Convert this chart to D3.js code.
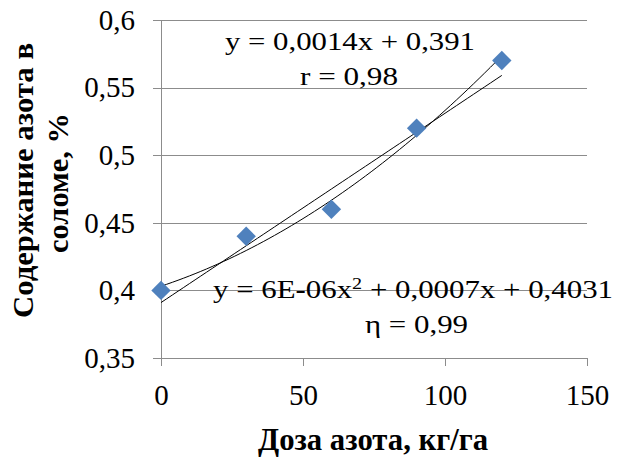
<!DOCTYPE html>
<html lang="ru">
<head>
<meta charset="utf-8">
<title>Содержание азота в соломе</title>
<script src="https://cdn.jsdelivr.net/npm/d3@7"></script>
<style>
  body { margin: 0; background: #fff; }
  .grid line { stroke: #8c8c8c; stroke-width: 1; shape-rendering: crispEdges; }
  .axis path, .axis line { stroke: #8c8c8c; fill: none; shape-rendering: crispEdges; }
</style>
</head>
<body>
<script>
// data
var doses = [0, 30, 60, 90, 120];
var nitrogen = [0.40, 0.44, 0.46, 0.52, 0.57];
var xTicks = [0, 50, 100, 150];
var yTicks = [0.35, 0.4, 0.45, 0.5, 0.55, 0.6];
// trend line coefficients as printed on the chart
var linCoef = [0.391, 0.0014];          // a + b*x
var quadCoef = [0.4031, 0.0007, 6e-6];  // a + b*x + c*x^2

var W = 618, H = 457;
var font = "'Liberation Serif', 'Times New Roman', 'Liberation Sans', serif";
var svg = d3.select("body").append("svg")
    .attr("width", W).attr("height", H)
    .style("font-family", font);

var x = d3.scaleLinear().domain([0, 150]).range([161, 587]);
var y = d3.scaleLinear().domain([0.35, 0.6]).range([358, 20]);
var fmt = function(v) { return String(+v.toFixed(2)).replace(".", ","); };

// horizontal gridlines
svg.append("g").attr("class", "grid")
  .selectAll("line").data(yTicks).enter().append("line")
    .attr("x1", x(0) - 8).attr("x2", x(150))
    .attr("y1", function(d) { return Math.round(y(d)) + 0.5; })
    .attr("y2", function(d) { return Math.round(y(d)) + 0.5; });

// y axis
var yAxis = d3.axisLeft(y).tickValues(yTicks).tickSize(8).tickPadding(18).tickFormat(fmt);
svg.append("g").attr("class", "axis y")
    .attr("transform", "translate(" + x(0) + ",0)")
    .call(yAxis);

// x axis
var xAxis = d3.axisBottom(x).tickValues(xTicks).tickSize(8).tickPadding(18).tickFormat(d3.format("d"));
svg.append("g").attr("class", "axis x")
    .attr("transform", "translate(0," + y(0.35) + ")")
    .call(xAxis);

svg.selectAll(".axis").attr("font-family", null).attr("font-size", 29);
svg.selectAll(".axis .domain").remove();
svg.append("line").attr("x1", x(0) + 0.5).attr("x2", x(0) + 0.5)
    .attr("y1", y(0.6)).attr("y2", y(0.35) + 8)
    .style("stroke", "#8c8c8c");

svg.selectAll(".axis text").style("fill", "#000").style("font-family", font);
svg.selectAll(".axis.x text").attr("dy", "0.71em");

// trend lines
var xs = d3.range(0, 120.5, 2);
var line = d3.line()
    .x(function(d) { return x(d[0]); })
    .y(function(d) { return y(d[1]); });
svg.append("path")
    .datum(xs.map(function(v) { return [v, linCoef[0] + linCoef[1] * v]; }))
    .attr("d", line).attr("fill", "none").attr("stroke", "#000").attr("stroke-width", 1);
svg.append("path")
    .datum(xs.map(function(v) { return [v, quadCoef[0] + quadCoef[1] * v + quadCoef[2] * v * v]; }))
    .attr("d", line).attr("fill", "none").attr("stroke", "#000").attr("stroke-width", 1);

// markers
var sym = d3.symbol().type(d3.symbolDiamond2).size(240);
svg.selectAll(".pt").data(doses).enter().append("path")
    .attr("class", "pt")
    .attr("transform", function(d, i) { return "translate(" + x(d) + "," + y(nitrogen[i]) + ")"; })
    .attr("d", sym)
    .attr("fill", "#4f81bd");

// equations (stretched to the widths they take in the original)
var eq = svg.append("g").attr("font-size", 26);
eq.append("text").attr("x", 225).attr("y", 50)
    .attr("textLength", 250).attr("lengthAdjust", "spacingAndGlyphs")
    .text("y = 0,0014x + 0,391");
eq.append("text").attr("x", 300).attr("y", 85)
    .attr("textLength", 98).attr("lengthAdjust", "spacingAndGlyphs")
    .text("r = 0,98");
var q = eq.append("text").attr("x", 213).attr("y", 298)
    .attr("textLength", 400).attr("lengthAdjust", "spacingAndGlyphs");
q.append("tspan").text("y = 6E-06x");
q.append("tspan").attr("dy", -9).attr("font-size", 17).text("2");
q.append("tspan").attr("dy", 9).text(" + 0,0007x + 0,4031");
eq.append("text").attr("x", 365).attr("y", 333)
    .attr("textLength", 103).attr("lengthAdjust", "spacingAndGlyphs")
    .text("η = 0,99");

// axis titles
svg.append("text").attr("x", 258).attr("y", 450)
    .attr("font-size", 31).attr("font-weight", "bold")
    .attr("textLength", 230).attr("lengthAdjust", "spacingAndGlyphs")
    .text("Доза азота, кг/га");
var yt = svg.append("g")
    .attr("transform", "rotate(-90)")
    .attr("font-size", 29).attr("font-weight", "bold");
yt.append("text").attr("x", -318).attr("y", 33)
    .attr("textLength", 275).attr("lengthAdjust", "spacingAndGlyphs")
    .text("Содержание азота в");
yt.append("text").attr("x", -253).attr("y", 68)
    .attr("textLength", 140).attr("lengthAdjust", "spacingAndGlyphs")
    .text("соломе, %");
</script>
</body>
</html>
